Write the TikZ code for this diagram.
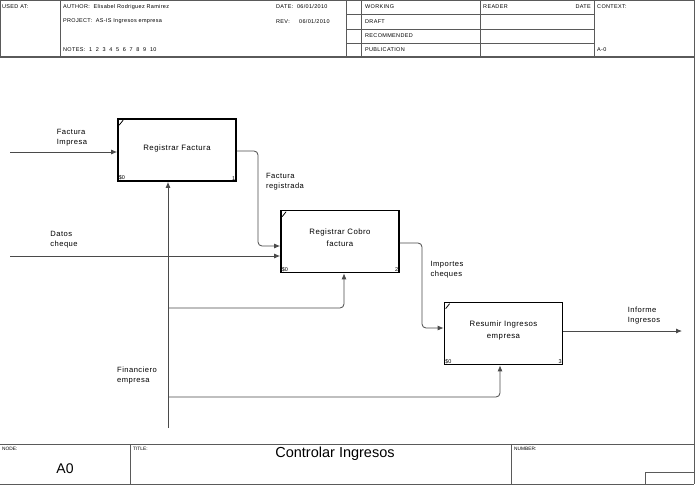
\documentclass[tikz,border=0pt]{standalone}
\usepackage{fontspec}
\setmainfont{Liberation Sans}
\newfontfamily\spacedsans{Liberation Sans}[LetterSpace=6]
\usepackage{xcolor}
\usepackage{tikz}
\usetikzlibrary{arrows.meta,positioning,calc}
\definecolor{FrameGray}{HTML}{5A5A5A}
\definecolor{FlowGray}{HTML}{4A4A4A}

\begin{document}
\begin{tikzpicture}[
  x=1pt, y=-1pt,
  frame/.style={draw=FrameGray,line width=0.8pt},
  hdr/.style={anchor=west,inner sep=0pt,font=\spacedsans\fontsize{5.5}{6}\selectfont},
  act/.style={draw,line width=1.7pt,minimum width=118pt,minimum height=62pt,
    align=center,font=\spacedsans\fontsize{7.8}{11.5}\selectfont},
  tag/.style={inner sep=1.5pt,font=\fontsize{5.5}{6}\selectfont},
  lbl/.style={align=left,inner sep=0pt,font=\spacedsans\fontsize{7.6}{10}\selectfont},
  flow/.style={-{Latex[length=6pt,width=5pt]},draw=FlowGray,line width=0.8pt,rounded corners=4pt}
]
  \useasboundingbox (0,0) rectangle (696,495);

  % header
  \draw[frame] (0.5,0.5) rectangle (694,57);
  \draw[frame,line width=1.3pt] (0,57) -- (694,57);
  \draw[frame] (60,0.5) -- (60,57);
  \draw[frame] (346,0.5) -- (346,57);
  \draw[frame] (361,0.5) -- (361,57);
  \draw[frame] (480,0.5) -- (480,57);
  \draw[frame] (594,0.5) -- (594,57);
  \draw[frame] (346,14) -- (594,14);
  \draw[frame] (346,29) -- (594,29);
  \draw[frame] (346,43) -- (594,43);

  \node[hdr] (usedat) at (2,7) {USED AT:};
  \node[hdr] (author) at (63,7) {AUTHOR:\ \ Elisabel Rodriguez Ramirez};
  \node[hdr] (project) at (63,21.5) {PROJECT:\ \ AS-IS Ingresos empresa};
  \node[hdr] (notes) at (63,50) {NOTES:\ \ 1\ \ 2\ \ 3\ \ 4\ \ 5\ \ 6\ \ 7\ \ 8\ \ 9\ \ 10};
  \node[hdr] (date) at (276,7) {DATE:\ \ 06/01/2010};
  \node[hdr] (rev) at (276,21.5) {REV:\ \ \ \ \ 06/01/2010};
  \node[hdr] (working) at (365,7) {WORKING};
  \node[hdr] (draft) at (365,21.5) {DRAFT};
  \node[hdr] (recom) at (365,36) {RECOMMENDED};
  \node[hdr] (public) at (365,50) {PUBLICATION};
  \node[hdr] (reader) at (483,7) {READER};
  \node[hdr,anchor=east] (rdate) at (591,7) {DATE};
  \node[hdr] (context) at (597,7) {CONTEXT:};
  \node[hdr] (ctxnode) at (597,50) {A-0};

  % main frame and footer
  \draw[frame] (694,57) -- (694,484);
  \draw[frame] (0,444) -- (694,444);
  \draw[frame] (0,484) -- (694,484);
  \draw[frame] (130,444) -- (130,484);
  \draw[frame] (511,444) -- (511,484);
  \draw[frame] (645,484) -- (645,472) -- (694,472);

  \node[hdr,font=\fontsize{4.8}{5}\selectfont] (nodehdr) at (2,449) {NODE:};
  \node[hdr,font=\fontsize{4.8}{5}\selectfont] (titlehdr) at (133,449) {TITLE:};
  \node[hdr,font=\fontsize{4.8}{5}\selectfont] (numhdr) at (514,449) {NUMBER:};
  \node[font=\fontsize{14}{16}\selectfont] (nodeid) at (65,469) {A0};
  \node[font=\fontsize{14.5}{16}\selectfont] (title) at (335,454) {Controlar Ingresos};

  % activities
  \node[act] (rf) at (177,150) {Registrar Factura\\[-7pt]};
  \node[act] (rc) at (340,241.5) {Registrar Cobro\\factura\\[-4pt]};
  \node[act] (ri) at (503.5,333.5) {Resumir Ingresos\\empresa\\[-4pt]};

  \foreach \b/\n in {rf/1,rc/2,ri/3}{
    \draw[line width=0.8pt] ($(\b.north west)+(2,7)$) -- ($(\b.north west)+(6,2)$);
    \node[tag,anchor=south west] at (\b.south west) {\$0};
    \node[tag,anchor=south east] at (\b.south east) {\n};
  }

  % inputs and outputs
  \coordinate (in1) at (10,152);
  \coordinate (in2) at (10,256);
  \coordinate (out1) at (682,331);
  \draw[flow] (in1) -- (in1 -| rf.west);
  \draw[flow] (rf.east |- 0,151) -| (258,200) |- (rc.west |- 0,246);
  \draw[flow] (in2) -- (in2 -| rc.west);
  \draw[flow] (rc.east |- 0,243) -| (422,300) |- (ri.west |- 0,328);
  \draw[flow] (ri.east |- out1) -- (out1);

  % control
  \coordinate (ctl) at (168,428);
  \coordinate (br1) at (168,308);
  \coordinate (br2) at (168,397);
  \draw[flow] (ctl) -- (rf.south -| ctl);
  \draw[flow] (br1) -| ($(rc.south)+(4,0)$);
  \draw[flow] (br2) -| ($(ri.south)+(-3.5,0)$);

  % labels
  \node[lbl] (lfi) at (72,138) {Factura\\Impresa};
  \node[lbl] (lfr) at (285,182) {Factura\\registrada};
  \node[lbl] (ldc) at (64,240) {Datos\\cheque};
  \node[lbl] (lic) at (447,270) {Importes\\cheques};
  \node[lbl] (lii) at (644,316) {Informe\\Ingresos};
  \node[lbl] (lfe) at (137,376) {Financiero\\empresa};
\end{tikzpicture}
\end{document}
